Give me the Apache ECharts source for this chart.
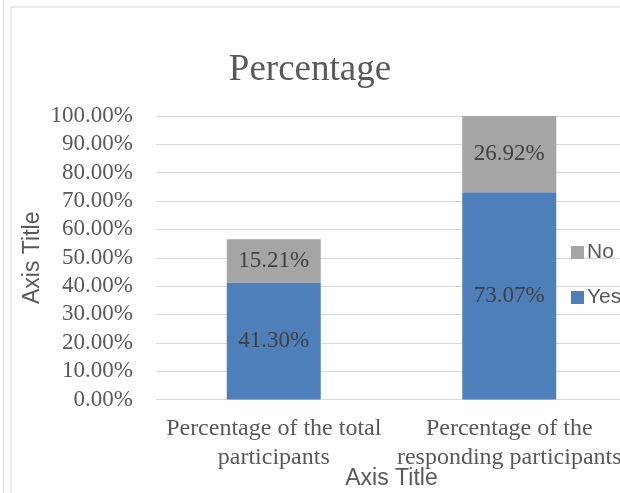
<!DOCTYPE html>
<html>
<head>
<meta charset="utf-8">
<script src="https://cdn.jsdelivr.net/npm/echarts@6/dist/echarts.min.js"></script>
<style>
html,body{margin:0;padding:0;background:#fff;}
#chart{width:620px;height:493px;}
</style>
</head>
<body>
<div id="chart"></div>
<script>
var categories = ['Percentage of the total\nparticipants', 'Percentage of the\nresponding participants'];
var yesValues = [41.30, 73.07];
var noValues = [15.21, 26.92];
var seriesNames = ['Yes', 'No'];
var yTicks = [0, 10, 20, 30, 40, 50, 60, 70, 80, 90, 100];

var chart = echarts.init(document.getElementById('chart'));
var serif = 'Liberation Serif, Times New Roman, serif';
var sans = 'Liberation Sans, Arial, sans-serif';
var dataLabel = {
  show: true,
  position: 'inside',
  fontFamily: serif,
  fontSize: 23,
  color: '#404040',
  formatter: function (p) { return p.value.toFixed(2) + '%'; }
};
chart.setOption({
  animation: false,
  backgroundColor: '#ffffff',
  title: {
    text: 'Percentage',
    left: 'center',
    top: 47,
    textStyle: { fontFamily: serif, fontSize: 37, fontWeight: 'normal', color: '#595959' }
  },
  graphic: [
    { type: 'rect', shape: { x: 11, y: 7, width: 700, height: 600 }, style: { fill: 'none', stroke: '#d9d9d9', lineWidth: 1 }, silent: true },
    { type: 'line', shape: { x1: 3.5, y1: 0, x2: 3.5, y2: 493 }, style: { stroke: '#d9d9d9', lineWidth: 1 }, silent: true }
  ],
  legend: {
    orient: 'vertical',
    left: 566,
    top: 237,
    data: ['No', 'Yes'],
    itemWidth: 13,
    itemHeight: 13,
    itemGap: 24,
    icon: 'rect',
    textStyle: { fontFamily: sans, fontSize: 21, color: '#595959', padding: [0, 0, 0, -2] }
  },
  grid: { left: 156, top: 116, width: 471, height: 283.5, containLabel: false, outerBoundsMode: 'none' },
  xAxis: {
    type: 'category',
    data: categories,
    axisLine: { show: true, lineStyle: { color: '#d9d9d9', width: 1 } },
    axisTick: { show: false },
    axisLabel: { fontFamily: serif, fontSize: 24, color: '#595959', lineHeight: 29, margin: 15, interval: 0 },
    name: 'Axis Title',
    nameLocation: 'middle',
    nameGap: 68,
    nameMoveOverlap: false,
    nameTextStyle: { fontFamily: sans, fontSize: 23, color: '#595959' }
  },
  yAxis: {
    type: 'value',
    min: yTicks[0],
    max: yTicks[yTicks.length - 1],
    interval: yTicks[1] - yTicks[0],
    axisLine: { show: false },
    axisTick: { show: false },
    splitLine: { lineStyle: { color: '#d9d9d9', width: 1 } },
    axisLabel: {
      fontFamily: serif, fontSize: 23, color: '#595959', margin: 23,
      formatter: function (v) { return v.toFixed(2) + '%'; }
    },
    name: 'Axis Title',
    nameLocation: 'middle',
    nameGap: 112,
    nameMoveOverlap: false,
    nameTextStyle: { fontFamily: sans, fontSize: 23, color: '#595959' }
  },
  series: [
    { name: seriesNames[0], type: 'bar', stack: 'total', data: yesValues, barWidth: 94,
      itemStyle: { color: '#4f7fba' }, label: dataLabel },
    { name: seriesNames[1], type: 'bar', stack: 'total', data: noValues, barWidth: 94,
      itemStyle: { color: '#a5a5a5' }, label: dataLabel }
  ]
});
</script>
</body>
</html>
